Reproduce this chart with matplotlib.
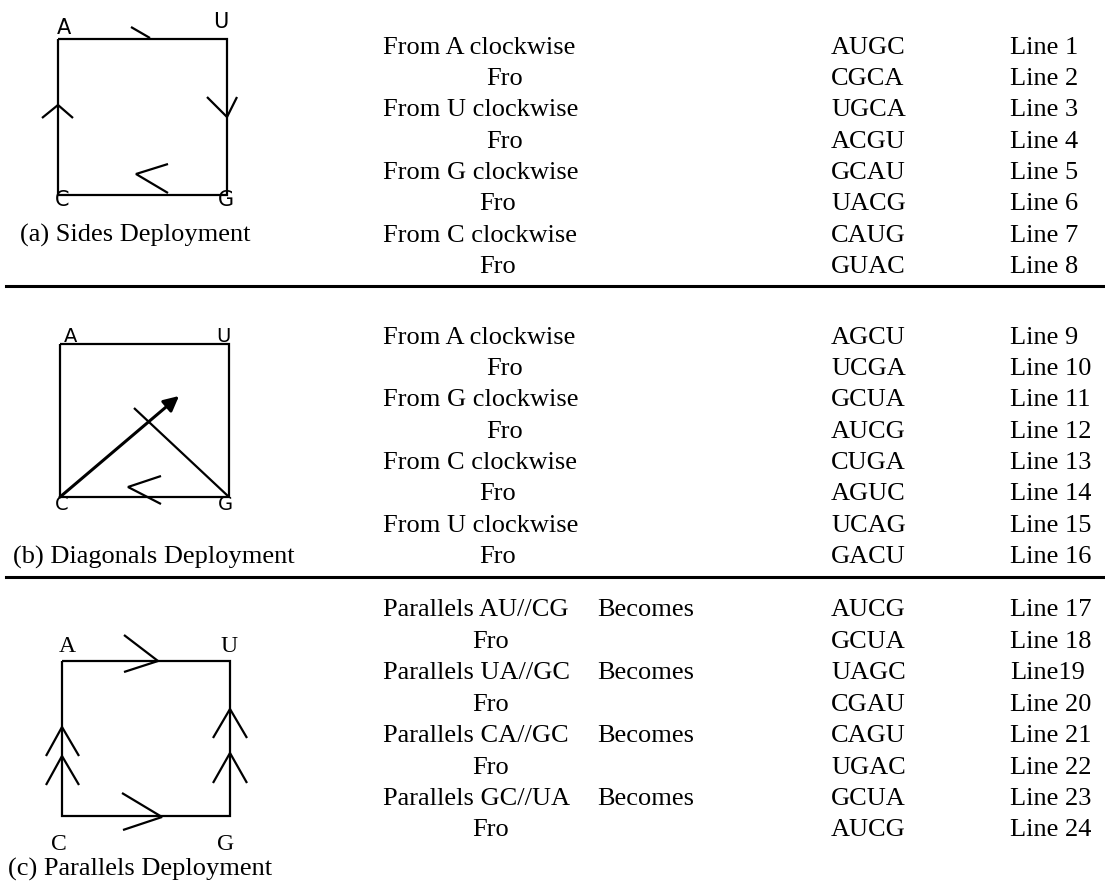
import matplotlib
matplotlib.use("Agg")
import matplotlib.pyplot as plt

# text of the three tables
desc_a = ["From A clockwise", "Fro", "From U clockwise", "Fro",
          "From G clockwise", "Fro", "From C clockwise", "Fro"]
seq_a = ["AUGC", "CGCA", "UGCA", "ACGU", "GCAU", "UACG", "CAUG", "GUAC"]

desc_b = ["From A clockwise", "Fro", "From G clockwise", "Fro",
          "From C clockwise", "Fro", "From U clockwise", "Fro"]
seq_b = ["AGCU", "UCGA", "GCUA", "AUCG", "CUGA", "AGUC", "UCAG", "GACU"]

desc_c = ["Parallels AU//CG", "Fro", "Parallels UA//GC", "Fro",
          "Parallels CA//GC", "Fro", "Parallels GC//UA", "Fro"]
seq_c = ["AUCG", "GCUA", "UAGC", "CGAU", "CAGU", "UGAC", "GCUA", "AUCG"]

line_labels = ["Line %d" % i for i in range(1, 25)]
line_labels[18] = "Line19"

panel_titles = ["(a) Sides Deployment", "(b) Diagonals Deployment",
                "(c) Parallels Deployment"]
corner_names = ["A", "U", "C", "G"]

serif = "Liberation Serif"
sans = "DejaVu Sans"
fs = 19

fig = plt.figure(figsize=(11.05, 8.81), dpi=100)
ax = fig.add_axes([0, 0, 1, 1])
ax.set_xlim(0, 1105)
ax.set_ylim(881, 0)
ax.axis("off")


def row_text(x, y, s, **kw):
    # y is the middle of the capitals
    ax.text(x, y + 8.5, s, fontsize=fs, family=serif, va="baseline", **kw)


def table(y0, descs, seqs, labels, fro_x, extra=None):
    for i in range(8):
        y = y0 + i * 31.4
        if descs[i] == "Fro":
            row_text(fro_x[i // 2], y, "Fro")
        else:
            row_text(383, y, descs[i])
            if extra:
                row_text(597, y, extra)
        row_text(831, y, seqs[i])
        row_text(1010, y, labels[i])


def poly(xs, ys, lw=1.6):
    ax.plot(xs, ys, color="black", lw=lw, solid_capstyle="butt",
            solid_joinstyle="miter")


# --- section (a)
table(45, desc_a, seq_a, line_labels[0:8], [486, 486, 479, 479])
L, R, T, B = 58, 227, 39, 195
poly([L, R, R, L, L], [T, T, B, B, T])
poly([131, 150], [27, 38])
poly([207, 227, 237], [97, 117, 97])
poly([42, 58, 73], [118, 105, 118])
poly([168, 136, 168], [164, 174, 193])
for name, (x, y) in zip(corner_names, [(64, 28), (221, 22), (62, 200), (226, 200)]):
    ax.text(x, y, name, fontsize=15, family=sans, ha="center", va="center")
row_text(20, 233, panel_titles[0])
ax.plot([6, 1105], [286, 286], color="black", lw=2.2)

# --- section (b)
table(335, desc_b, seq_b, line_labels[8:16], [486, 486, 479, 479])
L, R, T, B = 60, 229, 344, 497
poly([L, R, R, L, L], [T, T, B, B, T])
poly([R, 134], [B, 408])
poly([161, 128, 161], [476, 487, 504])
ax.annotate("", xy=(179, 396), xytext=(L, B),
            arrowprops=dict(arrowstyle="-|>,head_length=0.9,head_width=0.45",
                            color="black", lw=2.2, shrinkA=0, shrinkB=0))
for name, (x, y) in zip(corner_names, [(71, 337), (223, 337), (62, 505), (225, 505)]):
    ax.text(x, y, name, fontsize=14, family=sans, ha="center", va="center")
row_text(13, 555, panel_titles[1])
ax.plot([6, 1105], [577, 577], color="black", lw=2.2)

# --- section (c)
table(608, desc_c, seq_c, line_labels[16:24], [472, 472, 472, 472], extra="Becomes")
L, R, T, B = 62, 230, 661, 816
poly([L, R, R, L, L], [T, T, B, B, T])
poly([124, 158, 124], [635, 661, 672])
poly([122, 162, 123], [793, 817, 830])
poly([46, L, 79], [756, 727, 756])
poly([46, L, 79], [785, 756, 785])
poly([213, R, 247], [738, 709, 738])
poly([213, R, 247], [783, 753, 783])
for name, (x, y) in zip(corner_names, [(67, 645), (229, 645), (59, 842), (226, 842)]):
    ax.text(x, y + 7.5, name, fontsize=17, family=serif, ha="center", va="baseline")
row_text(8, 867, panel_titles[2])

fig.savefig("out.png", dpi=100)
